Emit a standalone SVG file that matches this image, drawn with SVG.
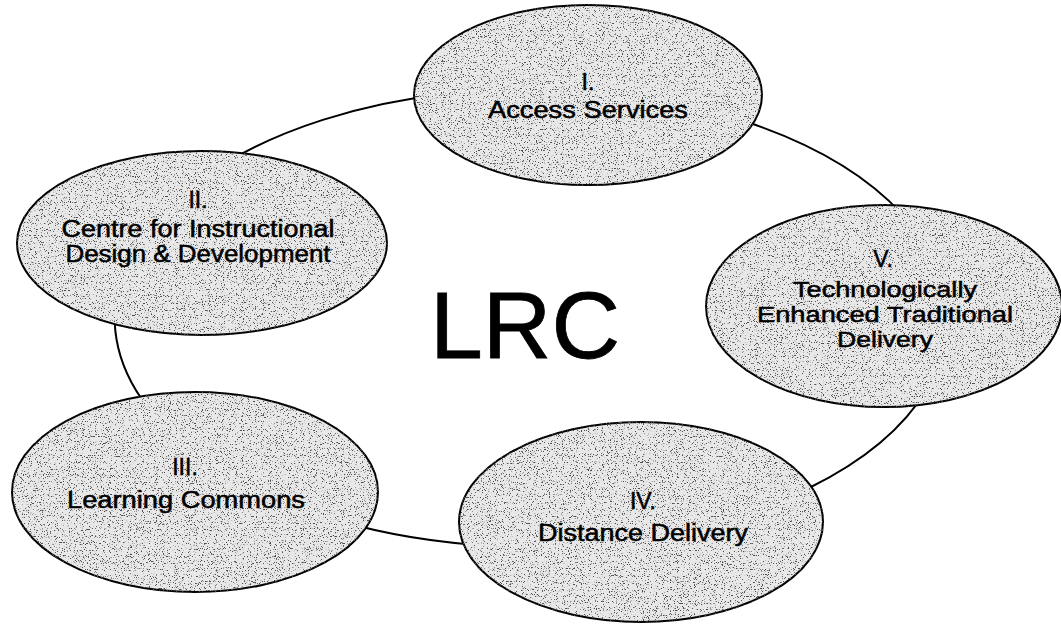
<svg xmlns="http://www.w3.org/2000/svg" width="1061" height="625" viewBox="0 0 1061 625">
  <style>
    .conn { fill: none; stroke: #000; stroke-width: 2; }
    .node { fill: #e8e8e8; stroke: #000; stroke-width: 2; filter: url(#stipple); }
    .lbl { font-family: "Liberation Sans", Arial, Helvetica, sans-serif; font-size: 23px; fill: #000; stroke: #000; stroke-width: 0.5; text-anchor: middle; }
    .lbl-s { font-size: 22px; }
    .title { font-family: "Liberation Sans", Arial, Helvetica, sans-serif; font-size: 95px; fill: #000; stroke: #000; stroke-width: 0.8; text-anchor: middle; }
  </style>
  <defs>
    <filter id="stipple" x="-2%" y="-2%" width="104%" height="104%" color-interpolation-filters="sRGB">
      <feTurbulence type="fractalNoise" baseFrequency="0.85" numOctaves="2" seed="7" result="noise"/>
      <feColorMatrix in="noise" type="matrix" values="0 0 0 0 0.3  0 0 0 0 0.3  0 0 0 0 0.3  -10 0 0 0 4.0" result="dots"/>
      <feComposite in="dots" in2="SourceGraphic" operator="in" result="clipped"/>
      <feMerge>
        <feMergeNode in="SourceGraphic"/>
        <feMergeNode in="clipped"/>
      </feMerge>
    </filter>
  </defs>
  <rect width="1061" height="625" fill="#fff"/>

  <g id="connectors">
    <path class="conn" d="M750,123 A416,229 0 0 1 902,214"/>
    <path class="conn" d="M927,389 A416,229 0 0 1 809,488"/>
    <path class="conn" d="M495,546 A416,229 0 0 1 336,520"/>
    <path class="conn" d="M154,415 A416,229 0 0 1 121,278"/>
    <path class="conn" d="M222,165 A416,229 0 0 1 444,94"/>
  </g>

  <g id="node-I">
    <ellipse class="node" cx="588" cy="95" rx="174" ry="90"/>
    <text class="lbl" x="588" y="90">I.</text>
    <text class="lbl" x="588" y="118" textLength="200" lengthAdjust="spacingAndGlyphs">Access Services</text>
  </g>

  <g id="node-II">
    <ellipse class="node" cx="202" cy="243" rx="185" ry="92"/>
    <text class="lbl" x="198" y="208">II.</text>
    <text class="lbl" x="198" y="237" textLength="273" lengthAdjust="spacingAndGlyphs">Centre for Instructional</text>
    <text class="lbl" x="198" y="262" textLength="265" lengthAdjust="spacingAndGlyphs">Design &amp; Development</text>
  </g>

  <g id="node-III">
    <ellipse class="node" cx="195" cy="492" rx="183" ry="100"/>
    <text class="lbl" x="185" y="475">III.</text>
    <text class="lbl" x="186" y="508" textLength="238" lengthAdjust="spacingAndGlyphs">Learning Commons</text>
  </g>

  <g id="node-IV">
    <ellipse class="node" cx="641" cy="522" rx="182" ry="100"/>
    <text class="lbl" x="643" y="509">IV.</text>
    <text class="lbl" x="643" y="541" textLength="210" lengthAdjust="spacingAndGlyphs">Distance Delivery</text>
  </g>

  <g id="node-V">
    <ellipse class="node" cx="884" cy="306" rx="178" ry="101"/>
    <text class="lbl" x="883" y="267">V.</text>
    <text class="lbl lbl-s" x="885" y="297" textLength="184" lengthAdjust="spacingAndGlyphs">Technologically</text>
    <text class="lbl lbl-s" x="885" y="322" textLength="256" lengthAdjust="spacingAndGlyphs">Enhanced Traditional</text>
    <text class="lbl lbl-s" x="885" y="347" textLength="96" lengthAdjust="spacingAndGlyphs">Delivery</text>
  </g>

  <g id="center-label">
    <text class="title" x="525" y="358">LRC</text>
  </g>
</svg>
